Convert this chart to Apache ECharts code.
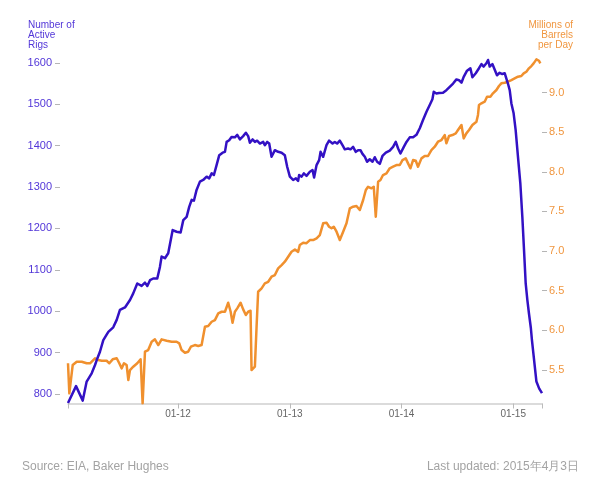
<!DOCTYPE html>
<html>
<head>
<meta charset="utf-8">
<script src="https://cdn.jsdelivr.net/npm/echarts@6/dist/echarts.min.js"></script>
<style>html,body{margin:0;padding:0;background:#fff;}#c{width:601px;height:489px;}</style>
</head>
<body>
<div id="c"></div>
<script>
// Rig count (left axis), x as decimal year
const rigYears = [2011.015, 2011.087, 2011.147, 2011.182, 2011.227, 2011.257, 2011.272, 2011.301, 2011.331, 2011.376,
  2011.420, 2011.451, 2011.480, 2011.525, 2011.570, 2011.599, 2011.635, 2011.674, 2011.704, 2011.725,
  2011.749, 2011.778, 2011.814, 2011.838, 2011.853, 2011.883, 2011.912, 2011.952, 2011.987, 2012.023,
  2012.047, 2012.077, 2012.100, 2012.122, 2012.142, 2012.166, 2012.196, 2012.225, 2012.256, 2012.279,
  2012.301, 2012.321, 2012.345, 2012.369, 2012.399, 2012.420, 2012.435, 2012.458, 2012.479, 2012.509,
  2012.530, 2012.554, 2012.583, 2012.607, 2012.628, 2012.643, 2012.667, 2012.688, 2012.708, 2012.733,
  2012.762, 2012.777, 2012.798, 2012.816, 2012.837, 2012.867, 2012.896, 2012.927, 2012.956, 2012.977,
  2013.001, 2013.030, 2013.055, 2013.075, 2013.084, 2013.106, 2013.126, 2013.150, 2013.180, 2013.204,
  2013.218, 2013.240, 2013.263, 2013.276, 2013.299, 2013.329, 2013.352, 2013.383, 2013.403, 2013.424,
  2013.448, 2013.472, 2013.493, 2013.522, 2013.544, 2013.567, 2013.591, 2013.612, 2013.633, 2013.651,
  2013.672, 2013.692, 2013.716, 2013.741, 2013.761, 2013.782, 2013.806, 2013.830, 2013.860, 2013.895,
  2013.925, 2013.949, 2013.970, 2013.991, 2014.021, 2014.045, 2014.074, 2014.104, 2014.134, 2014.164,
  2014.193, 2014.224, 2014.253, 2014.277, 2014.289, 2014.313, 2014.336, 2014.372, 2014.402, 2014.417,
  2014.462, 2014.492, 2014.515, 2014.537, 2014.557, 2014.587, 2014.617, 2014.635, 2014.665, 2014.694,
  2014.716, 2014.736, 2014.760, 2014.775, 2014.790, 2014.814, 2014.834, 2014.855, 2014.879, 2014.903,
  2014.924, 2014.953, 2014.969, 2014.984, 2015.004, 2015.022, 2015.043, 2015.064, 2015.082, 2015.097,
  2015.112, 2015.127, 2015.141, 2015.158, 2015.168, 2015.188, 2015.208, 2015.233, 2015.258];
const rigCounts = [778, 819, 784, 830, 850, 870, 882, 902, 930, 950,
  961, 979, 1003, 1009, 1027, 1043, 1067, 1061, 1069, 1061,
  1075, 1079, 1079, 1107, 1132, 1128, 1140, 1196, 1192, 1190,
  1220, 1228, 1252, 1269, 1267, 1293, 1313, 1317, 1325, 1321,
  1333, 1329, 1353, 1377, 1383, 1385, 1409, 1413, 1421, 1420,
  1426, 1415, 1423, 1431, 1423, 1407, 1415, 1409, 1412, 1405,
  1409, 1401, 1409, 1405, 1373, 1389, 1385, 1383, 1377, 1349,
  1325, 1317, 1321, 1315, 1329, 1325, 1333, 1327, 1337, 1341,
  1323, 1353, 1365, 1385, 1373, 1401, 1412, 1405, 1409, 1405,
  1412, 1401, 1391, 1393, 1391, 1397, 1385, 1389, 1389, 1380,
  1373, 1361, 1367, 1361, 1372, 1361, 1356, 1375, 1383, 1388,
  1397, 1409, 1393, 1381, 1397, 1409, 1420, 1420, 1426, 1442,
  1462, 1482, 1498, 1512, 1530, 1526, 1527, 1528, 1534, 1536,
  1550, 1560, 1558, 1552, 1566, 1581, 1587, 1565, 1575, 1587,
  1597, 1591, 1599, 1607, 1591, 1597, 1584, 1570, 1576, 1573,
  1575, 1550, 1534, 1502, 1478, 1438, 1373, 1309, 1228, 1148,
  1067, 1027, 995, 960, 930, 880, 830, 813, 802];

// Oil production (right axis, millions of barrels per day)
const oilYears = [2011.015, 2011.027, 2011.057, 2011.093, 2011.138, 2011.182, 2011.212, 2011.227, 2011.257, 2011.286,
  2011.317, 2011.361, 2011.385, 2011.415, 2011.451, 2011.474, 2011.496, 2011.516, 2011.540, 2011.555,
  2011.570, 2011.599, 2011.635, 2011.665, 2011.683, 2011.704, 2011.733, 2011.764, 2011.793, 2011.823,
  2011.853, 2011.898, 2011.943, 2011.987, 2012.011, 2012.032, 2012.062, 2012.091, 2012.115, 2012.151,
  2012.181, 2012.211, 2012.241, 2012.270, 2012.301, 2012.330, 2012.360, 2012.390, 2012.420, 2012.449,
  2012.471, 2012.488, 2012.509, 2012.530, 2012.560, 2012.583, 2012.607, 2012.628, 2012.649, 2012.658,
  2012.673, 2012.688, 2012.703, 2012.717, 2012.748, 2012.777, 2012.807, 2012.837, 2012.867, 2012.896,
  2012.927, 2012.956, 2012.986, 2013.016, 2013.046, 2013.075, 2013.090, 2013.120, 2013.150, 2013.180,
  2013.209, 2013.240, 2013.269, 2013.299, 2013.329, 2013.352, 2013.374, 2013.394, 2013.419, 2013.448,
  2013.478, 2013.508, 2013.538, 2013.567, 2013.597, 2013.627, 2013.657, 2013.681, 2013.701, 2013.732,
  2013.752, 2013.770, 2013.791, 2013.812, 2013.835, 2013.866, 2013.895, 2013.925, 2013.955, 2013.985,
  2014.009, 2014.038, 2014.059, 2014.080, 2014.104, 2014.128, 2014.148, 2014.179, 2014.208, 2014.238,
  2014.268, 2014.298, 2014.327, 2014.358, 2014.387, 2014.402, 2014.426, 2014.456, 2014.486, 2014.506,
  2014.537, 2014.557, 2014.581, 2014.605, 2014.635, 2014.671, 2014.685, 2014.694, 2014.716, 2014.745,
  2014.766, 2014.796, 2014.819, 2014.850, 2014.873, 2014.894, 2014.924, 2014.953, 2014.984, 2015.013,
  2015.043, 2015.073, 2015.094, 2015.118, 2015.141, 2015.163, 2015.183, 2015.208, 2015.231, 2015.243];
const oilOutput = [5.585, 5.206, 5.563, 5.605, 5.605, 5.585, 5.585, 5.563, 5.648, 5.626,
  5.617, 5.617, 5.585, 5.635, 5.648, 5.585, 5.521, 5.585, 5.563, 5.374,
  5.5, 5.542, 5.585, 5.635, 5.08, 5.731, 5.752, 5.857, 5.887, 5.815,
  5.887, 5.87, 5.857, 5.857, 5.837, 5.752, 5.718, 5.731, 5.794, 5.815,
  5.803, 5.815, 6.046, 6.055, 6.109, 6.13, 6.215, 6.235, 6.235, 6.349,
  6.235, 6.097, 6.235, 6.278, 6.349, 6.265, 6.194, 6.235, 6.248, 5.5,
  5.479, 5.542, 6.046, 6.487, 6.53, 6.593, 6.613, 6.677, 6.698, 6.782,
  6.824, 6.866, 6.929, 6.992, 7.02, 6.99, 7.076, 7.105, 7.10, 7.139,
  7.139, 7.161, 7.202, 7.35, 7.358, 7.307, 7.287, 7.307, 7.244, 7.139,
  7.244, 7.35, 7.539, 7.559, 7.568, 7.518, 7.644, 7.77, 7.811, 7.791,
  7.811, 7.433, 7.874, 7.896, 7.959, 7.98, 8.044, 8.064, 8.085, 8.085,
  8.148, 8.169, 8.106, 8.044, 8.148, 8.139, 8.064, 8.169, 8.199, 8.199,
  8.274, 8.316, 8.379, 8.4, 8.463, 8.359, 8.451, 8.463, 8.484, 8.526,
  8.589, 8.421, 8.484, 8.526, 8.589, 8.631, 8.716, 8.842, 8.863, 8.884,
  8.947, 8.947, 8.989, 9.031, 9.081, 9.115, 9.123, 9.136, 9.157, 9.178,
  9.199, 9.207, 9.241, 9.262, 9.304, 9.333, 9.367, 9.417, 9.4, 9.367];

const leftTicks = [800, 900, 1000, 1100, 1200, 1300, 1400, 1500, 1600];
const rightTicks = [5.5, 6.0, 6.5, 7.0, 7.5, 8.0, 8.5, 9.0];
const xLabelYears = [2012, 2013, 2014, 2015];
const xStart = 2011.015, xEnd = 2015.258;

const FONT = '"Liberation Sans", Arial, Helvetica, sans-serif';
const BLUE = '#3311c4', ORANGE = '#f0902e';
const BLUE_TXT = '#5236d8', ORANGE_TXT = '#f0963f';

const chart = echarts.init(document.getElementById('c'), null, {renderer: 'canvas'});
chart.setOption({
  animation: false,
  backgroundColor: '#fff',
  textStyle: {fontFamily: FONT},
  title: [
    {text: 'Number of\nActive\nRigs', left: 28, top: 20, padding: 0,
     textStyle: {fontSize: 10, lineHeight: 10, color: BLUE_TXT, fontWeight: 'normal', fontFamily: FONT}},
    {text: 'Millions of\nBarrels\nper Day', left: 573, top: 20, padding: 0, textAlign: 'right',
     textStyle: {fontSize: 10, lineHeight: 10, color: ORANGE_TXT, fontWeight: 'normal', fontFamily: FONT, align: 'right'}},
    {text: 'Source: EIA, Baker Hughes', left: 22, top: 461, padding: 0,
     textStyle: {fontSize: 12, color: '#a3a3a3', fontWeight: 'normal', fontFamily: FONT}},
    {text: 'Last updated: 2015年4月3日', right: 22, top: 461, padding: 0,
     textStyle: {fontSize: 12, color: '#a3a3a3', fontWeight: 'normal', fontFamily: FONT}}
  ],
  grid: {left: 68, right: 59, top: 52.5, bottom: 85.5, containLabel: false},
  xAxis: {
    type: 'value', min: xStart, max: xEnd,
    axisLine: {show: true, lineStyle: {color: '#cfcfcf', width: 1.5}},
    axisTick: {show: true, length: 5, lineStyle: {color: '#bbb'},
      customValues: [xStart].concat(xLabelYears, [xEnd])},
    axisLabel: {customValues: xLabelYears, margin: 6, fontSize: 10, color: '#666', fontFamily: FONT,
      formatter: v => '01-' + String(Math.round(v)).slice(2)},
    splitLine: {show: false}
  },
  yAxis: [
    {type: 'value', min: 777, max: 1625, position: 'left', offset: 8,
     axisLine: {show: false},
     axisTick: {show: true, length: 5, lineStyle: {color: '#b5b5b5'}, customValues: leftTicks},
     axisLabel: {customValues: leftTicks, margin: 8, fontSize: 11, color: BLUE_TXT, fontFamily: FONT,
       formatter: v => String(Math.round(v))},
     splitLine: {show: false}},
    {type: 'value', min: 5.078, max: 9.504, position: 'right',
     axisLine: {show: false},
     axisTick: {show: true, length: 5, lineStyle: {color: '#b5b5b5'}, customValues: rightTicks},
     axisLabel: {customValues: rightTicks, margin: 7, fontSize: 11, color: ORANGE_TXT, fontFamily: FONT,
       formatter: v => v.toFixed(1)},
     splitLine: {show: false}}
  ],
  series: [
    {name: 'Oil production', type: 'line', yAxisIndex: 1, showSymbol: false, symbol: 'none',
     lineStyle: {color: ORANGE, width: 2.5, join: 'round'},
     data: oilYears.map((y, i) => [y, oilOutput[i]])},
    {name: 'Oil rigs', type: 'line', yAxisIndex: 0, showSymbol: false, symbol: 'none',
     lineStyle: {color: BLUE, width: 2.5, join: 'round'},
     data: rigYears.map((y, i) => [y, rigCounts[i]])}
  ]
});
</script>
</body>
</html>
